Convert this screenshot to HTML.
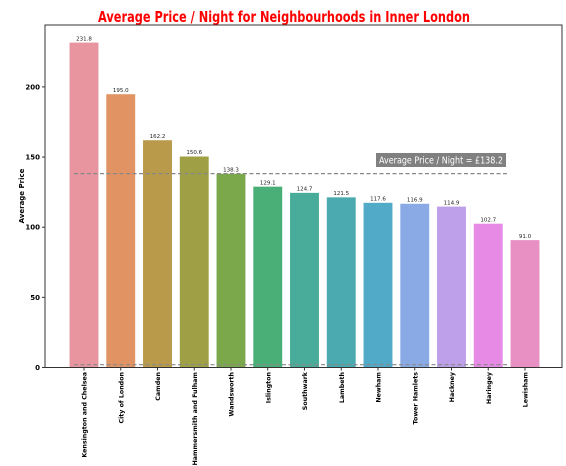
<!DOCTYPE html>
<html><head><meta charset="utf-8"><style>
html,body{margin:0;padding:0;background:#fff;}
svg{display:block;font-family:"DejaVu Sans","Liberation Sans",sans-serif;}
</style></head><body>
<svg id="chart" width="566" height="466" viewBox="0 0 566 466">
<text x="284" y="22" text-anchor="middle" font-size="15" font-weight="bold" fill="#ff0000" textLength="372" lengthAdjust="spacingAndGlyphs">Average Price / Night for Neighbourhoods in Inner London</text>
<g id="bars"></g>
<g id="yticks"></g>
<g id="xlabels"></g>
<text transform="translate(24,196) rotate(-90)" text-anchor="middle" font-size="7" font-weight="bold" fill="#000">Average Price</text>
<rect x="45" y="25" width="517" height="342.5" fill="none" stroke="#333" stroke-width="1"/>
</svg>
<script>
const categories = ["Kensington and Chelsea","City of London","Camden","Hammersmith and Fulham","Wandsworth","Islington","Southwark","Lambeth","Newham","Tower Hamlets","Hackney","Haringey","Lewisham"];
const values = [231.8,195.0,162.2,150.6,138.3,129.1,124.7,121.5,117.6,116.9,114.9,102.7,91.0];
const valueLabels = ["231.8","195.0","162.2","150.6","138.3","129.1","124.7","121.5","117.6","116.9","114.9","102.7","91.0"];
const yTicks = [0,50,100,150,200];
const meanValue = 138.2;
const lowLineValue = 2;
const colors = ["#e8959f","#e29363","#b99a4a","#9fa045","#7aa84a","#4aaf76","#49ac9a","#4aaab0","#50aac8","#8aaae6","#bea0ea","#e68ae6","#e890c4"];

const NS="http://www.w3.org/2000/svg";
const y0=367.5, pxPer=1.403;
function yScale(v){return y0 - v*pxPer;}
function xCenter(i){return 84 + i*36.75;}
const bw=29.5;
const svg=document.getElementById('chart');
const gb=document.getElementById('bars');
function mk(t,a,p){const e=document.createElementNS(NS,t);for(const k in a)e.setAttribute(k,a[k]);(p||svg).appendChild(e);return e;}
categories.forEach((c,i)=>{
  const v=values[i];
  const r=mk('rect',{x:xCenter(i)-bw/2,y:yScale(v),width:bw,height:y0-yScale(v),fill:colors[i],stroke:'#fff','stroke-width':0.6},gb);
  
  
  const t=mk('text',{x:xCenter(i),y:yScale(v)-2,'text-anchor':'middle','font-size':'5.5','fill':'#222'},gb);
  t.textContent=valueLabels[i];
  
  
  const xl=mk('text',{transform:`translate(${xCenter(i)+2.5},372) rotate(-90)`,'text-anchor':'end','font-size':'6.3','font-weight':'bold','fill':'#000'},document.getElementById('xlabels'));
  xl.textContent=c;
  
  
  const tk=mk('line',{x1:xCenter(i),x2:xCenter(i),y1:y0,y2:y0+3,stroke:'#333'});
  
  
});
yTicks.forEach(v=>{
  const l=mk('line',{x1:42,x2:45,y1:yScale(v),y2:yScale(v),stroke:'#333'},document.getElementById('yticks'));
  
  
  const t=mk('text',{x:40,y:yScale(v)+2.5,'text-anchor':'end','font-size':'7','font-weight':'bold'},document.getElementById('yticks'));
  t.textContent=v;
  
  
});
const ml=mk('line',{x1:74,x2:507,y1:yScale(meanValue),y2:yScale(meanValue),stroke:'#888','stroke-width':1.2,'stroke-dasharray':'4,2.5'});


const ll=mk('line',{x1:74,x2:507,y1:yScale(lowLineValue),y2:yScale(lowLineValue),stroke:'#888','stroke-width':1.2,'stroke-dasharray':'4,2.5'});


const box=mk('rect',{x:376,y:153,width:130,height:14,fill:'#808080'});


const at=mk('text',{x:441,y:163.5,'text-anchor':'middle','font-size':'9.5','fill':'#fff',textLength:'124',lengthAdjust:'spacingAndGlyphs'});
at.textContent='Average Price / Night = £'+meanValue.toFixed(1);


</script>
</body></html>
